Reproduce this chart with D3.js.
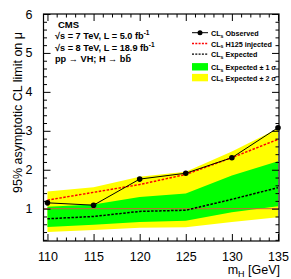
<!DOCTYPE html>
<html>
<head>
<meta charset="utf-8">
<script src="https://cdn.jsdelivr.net/npm/d3@7"></script>
<style>
  body { margin: 0; background: #fff; }
  svg { display: block; font-family: "Liberation Sans", Arial, sans-serif; }
</style>
</head>
<body>
<div id="chart"></div>
<script>
// values
var masses = [110, 115, 120, 125, 130, 135];
var observed = [1.15, 1.09, 1.76, 1.91, 2.31, 3.08];
var injected = [1.22, 1.42, 1.62, 1.88, 2.31, 2.78];
var expected = [0.74, 0.80, 0.93, 0.96, 1.24, 1.54];
var sigma1Lo = [0.53, 0.59, 0.66, 0.69, 0.91, 1.06];
var sigma1Hi = [1.05, 1.11, 1.30, 1.39, 1.85, 2.22];
var sigma2Lo = [0.40, 0.45, 0.51, 0.52, 0.66, 0.78];
var sigma2Hi = [1.44, 1.55, 1.82, 1.95, 2.47, 3.06];
var xTicks = [110, 115, 120, 125, 130, 135];
var yTicks = [1, 2, 3, 4, 5, 6];

var w = 291, h = 279;
var padL = 43.5, padR = 279, padT = 14, padB = 241;

var svg = d3.select("#chart").append("svg")
  .attr("width", w).attr("height", h);

var x = d3.scaleLinear().domain([109.57, 135.11]).range([padL, padR]);
var y = d3.scaleLinear().domain([0.17, 6]).range([padB, padT]);

var idx = d3.range(masses.length);

function band(lo, hi) {
  return d3.area()
    .x(function(i) { return x(masses[i]); })
    .y0(function(i) { return y(lo[i]); })
    .y1(function(i) { return y(hi[i]); })(idx);
}
function line(vals) {
  return d3.line()
    .x(function(i) { return x(masses[i]); })
    .y(function(i) { return y(vals[i]); })(idx);
}

svg.append("path").attr("d", band(sigma2Lo, sigma2Hi)).attr("fill", "#ffff00");
svg.append("path").attr("d", band(sigma1Lo, sigma1Hi)).attr("fill", "#00ff00");

// mu = 1 line
svg.append("line")
  .attr("x1", padL).attr("x2", padR)
  .attr("y1", y(1)).attr("y2", y(1))
  .attr("stroke", "#d2603a").attr("stroke-width", 1);

svg.append("path").attr("d", line(expected))
  .attr("fill", "none").attr("stroke", "#000").attr("stroke-width", 1.5)
  .attr("stroke-dasharray", "2.5,1.5");
svg.append("path").attr("d", line(injected))
  .attr("fill", "none").attr("stroke", "#ff0000").attr("stroke-width", 1.5)
  .attr("stroke-dasharray", "2.5,1.5");
svg.append("path").attr("d", line(observed))
  .attr("fill", "none").attr("stroke", "#000").attr("stroke-width", 1);
svg.selectAll("circle.obs").data(idx).enter().append("circle")
  .attr("class", "obs")
  .attr("cx", function(i) { return x(masses[i]); })
  .attr("cy", function(i) { return y(observed[i]); })
  .attr("r", 2.8).attr("fill", "#000");

// axes, ROOT style: ticks inward on all four sides
var xMinor = d3.range(110, 136, 1).filter(function(v) { return v % 5 != 0; });
var yMinor = d3.range(0.2, 6, 0.2).filter(function(v) { return Math.abs(v - Math.round(v)) > 0.01; });

function tickAxis(gen, scale, major, minor, tr, showLabels) {
  var g = svg.append("g").attr("transform", tr);
  g.call(gen(scale).tickValues(major).tickSize(-7).tickPadding(showLabels ? 11 : 0)
    .tickFormat(showLabels ? d3.format("d") : ""));
  var g2 = svg.append("g").attr("transform", tr);
  g2.call(gen(scale).tickValues(minor).tickSize(-3.5).tickFormat(""));
  [g, g2].forEach(function(s) {
    s.select(".domain").remove();
    s.selectAll("line").attr("stroke", "#000");
  });
  g.selectAll("text").attr("font-size", 12.5).attr("fill", "#000");
  return g;
}
tickAxis(d3.axisBottom, x, xTicks, xMinor, "translate(0," + padB + ")", true);
tickAxis(d3.axisTop, x, xTicks, xMinor, "translate(0," + padT + ")", false);
tickAxis(d3.axisLeft, y, yTicks, yMinor, "translate(" + padL + ",0)", true);
tickAxis(d3.axisRight, y, yTicks, yMinor, "translate(" + padR + ",0)", false);

svg.append("rect")
  .attr("x", padL).attr("y", padT)
  .attr("width", padR - padL).attr("height", padB - padT)
  .attr("fill", "none").attr("stroke", "#000").attr("stroke-width", 1.2);

// titles
svg.append("text")
  .attr("transform", "translate(22," + ((padT + padB) / 2 - 15) + ") rotate(-90)")
  .attr("text-anchor", "middle").attr("font-size", 12.5)
  .text("95% asymptotic CL limit on μ");

var xt = svg.append("text").attr("x", 280).attr("y", 274)
  .attr("text-anchor", "end").attr("font-size", 12.5);
xt.append("tspan").text("m");
xt.append("tspan").attr("font-size", 9).attr("dy", 3).text("H");
xt.append("tspan").attr("dy", -3).text(" [GeV]");

// CMS label block
svg.append("text").attr("x", 58).attr("y", 27.5)
  .attr("font-size", 9.5).attr("font-weight", "bold").text("CMS");
var info = [["√s = 7 TeV, L = 5.0 fb", "-1"], ["√s = 8 TeV, L = 18.9 fb", "-1"]];
info.forEach(function(d, i) {
  var t = svg.append("text").attr("x", 55).attr("y", 39 + i * 11.5)
    .attr("font-size", 9.2).attr("font-weight", "bold");
  t.append("tspan").text(d[0]);
  t.append("tspan").attr("font-size", 6.5).attr("dy", -4).text(d[1]);
});
svg.append("text").attr("x", 55).attr("y", 62)
  .attr("font-size", 9.2).attr("font-weight", "bold")
  .text("pp \u2192 VH; H \u2192 bb\u0304");

// legend
var legend = [
  { label: "Observed", type: "obs" },
  { label: "H125 injected", type: "inj" },
  { label: "Expected", type: "exp" },
  { label: "Expected \u00b1 1 \u03c3", type: "g" },
  { label: "Expected \u00b1 2 \u03c3", type: "y" }
];
var legY = [32.7, 43.5, 54.2, 66.8, 77.6];
var lg = svg.append("g");
legend.forEach(function(d, i) {
  var yy = legY[i];
  if (d.type == "obs" || d.type == "inj" || d.type == "exp") {
    var l = lg.append("line").attr("x1", 192).attr("x2", 208)
      .attr("y1", yy).attr("y2", yy);
    if (d.type == "obs") {
      l.attr("stroke", "#000").attr("stroke-width", 1);
      lg.append("circle").attr("cx", 200).attr("cy", yy).attr("r", 2.5).attr("fill", "#000");
    } else {
      l.attr("stroke", d.type == "inj" ? "#ff0000" : "#000")
        .attr("stroke-width", 1.3).attr("stroke-dasharray", "2,1.3");
    }
  } else {
    lg.append("rect").attr("x", 192).attr("y", yy - 3.7).attr("width", 16).attr("height", 7.4)
      .attr("fill", d.type == "g" ? "#00ff00" : "#ffff00");
  }
  var t = lg.append("text").attr("x", 211).attr("y", yy + 3)
    .attr("font-size", 7.2).attr("font-weight", "bold");
  t.append("tspan").text("CL");
  t.append("tspan").attr("font-size", 5.2).attr("dy", 1.8).text("s");
  t.append("tspan").attr("dy", -1.8).text(" " + d.label);
});
</script>
</body>
</html>
